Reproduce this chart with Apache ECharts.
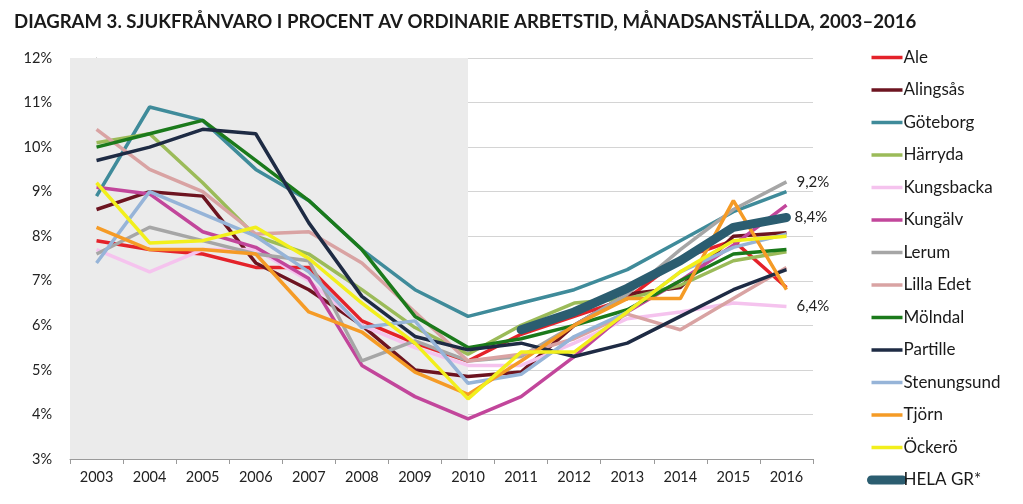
<!DOCTYPE html>
<html><head><meta charset="utf-8">
<script src="https://cdn.jsdelivr.net/npm/echarts@6/dist/echarts.min.js"></script>
<style>html,body{margin:0;padding:0;background:#fff}#c{width:1023px;height:504px}</style>
</head><body><div id="c"></div>
<script>
const years = ['2003','2004','2005','2006','2007','2008','2009','2010','2011','2012','2013','2014','2015','2016'];
const yTicks = [3,4,5,6,7,8,9,10,11,12];
const ale        = [7.9, 7.7, 7.6, 7.3, 7.3, 6.1, 5.6, 5.2, 5.8, 6.2, 6.6, 7.5, 7.9, 6.85];
const alingsas   = [8.6, 9.0, 8.9, 7.4, 6.8, 6.0, 5.0, 4.85, 4.95, 6.0, 6.7, 6.85, 8.0, 8.08];
const goteborg   = [8.9, 10.9, 10.6, 9.5, 8.8, 7.7, 6.8, 6.2, 6.5, 6.8, 7.25, 7.9, 8.55, 9.0];
const harryda    = [10.1, 10.3, 9.2, 8.0, 7.6, 6.8, 5.95, 5.35, 6.0, 6.5, 6.6, 6.9, 7.45, 7.65];
const kungsbacka = [7.7, 7.2, 7.7, 7.7, 7.0, 6.0, 5.5, 5.1, 5.1, 5.6, 6.15, 6.3, 6.5, 6.42];
const kungalv    = [9.1, 8.95, 8.1, 7.75, 7.05, 5.1, 4.4, 3.9, 4.4, 5.3, 6.3, 7.0, 7.8, 8.7];
const lerum      = [7.6, 8.2, 7.9, 7.6, 7.45, 5.2, 5.65, 5.2, 5.3, 6.0, 6.7, 7.7, 8.6, 9.22];
const lillaEdet  = [10.4, 9.5, 9.0, 8.05, 8.1, 7.4, 6.3, 5.2, 5.35, 5.7, 6.25, 5.9, 6.6, 7.3];
const molndal    = [10.0, 10.3, 10.6, 9.7, 8.8, 7.7, 6.2, 5.5, 5.7, 6.0, 6.35, 7.0, 7.6, 7.7];
const partille   = [9.7, 10.0, 10.4, 10.3, 8.3, 6.65, 5.75, 5.45, 5.6, 5.3, 5.6, 6.2, 6.8, 7.25];
const stenungsund= [7.4, 9.0, 8.5, 8.0, 7.2, 5.95, 6.1, 4.7, 4.9, 5.75, 6.3, 7.2, 7.75, 8.05];
const tjorn      = [8.2, 7.7, 7.7, 7.6, 6.3, 5.85, 4.95, 4.45, 5.2, 6.0, 6.6, 6.6, 8.8, 6.8];
const ockero     = [9.2, 7.85, 7.9, 8.2, 7.5, 6.5, 5.6, 4.35, 5.4, 5.4, 6.3, 7.2, 7.9, 8.0];
const helaGR     = [null, null, null, null, null, null, null, null, 5.9, 6.3, 6.83, 7.45, 8.2, 8.42];
const shadeRange = [-0.5, 7];

const FONT = 'Lato, "Open Sans", sans-serif';
const defs = [
  ['Ale', ale, '#e4222a'],
  ['Alingsås', alingsas, '#6d1420'],
  ['Göteborg', goteborg, '#3f8b9a'],
  ['Härryda', harryda, '#9bbb59'],
  ['Kungsbacka', kungsbacka, '#f5c3ee'],
  ['Kungälv', kungalv, '#c2469b'],
  ['Lerum', lerum, '#a6a6a6'],
  ['Lilla Edet', lillaEdet, '#d9a3a3'],
  ['Mölndal', molndal, '#1b7a1b'],
  ['Partille', partille, '#1e2b44'],
  ['Stenungsund', stenungsund, '#96b4d8'],
  ['Tjörn', tjorn, '#f59b26'],
  ['Öckerö', ockero, '#f2ef1c'],
];
const endLabelFor = new Set(['Lerum', 'Kungsbacka']);
const pct = p => (Math.round(p.value * 10) / 10).toFixed(1).replace('.', ',') + '%';
const series = defs.map(([name, data, color]) => ({
  name, type: 'line', data, symbol: 'none', color,
  lineStyle: { width: 3.5, color },
  endLabel: { show: endLabelFor.has(name), formatter: pct, fontFamily: FONT, fontSize: 15, color: '#222', distance: 10 },
  emphasis: { disabled: true }
}));
series.push({
  name: 'HELA GR*', type: 'line', data: helaGR, symbol: 'none', color: '#2b5d70',
  lineStyle: { width: 9, color: '#2b5d70', cap: 'round' },
  endLabel: { show: true, formatter: pct, fontFamily: FONT, fontSize: 15, color: '#222', distance: 8 },
  emphasis: { disabled: true }, z: 3
});
series.push({
  name: 'shade', type: 'line', data: [], xAxisIndex: 1, silent: true, z: 0,
  markArea: { silent: true, itemStyle: { color: '#ebebeb' }, data: [[{ xAxis: shadeRange[0] }, { xAxis: shadeRange[1] }]] }
});

const legendData = defs.map(d => ({ name: d[0] }));
legendData.push({ name: 'HELA GR*', lineStyle: { width: 9, cap: 'round' } });

const chart = echarts.init(document.getElementById('c'), null, { renderer: 'canvas' });
chart.setOption({
  animation: false,
  backgroundColor: '#fff',
  title: {
    text: 'DIAGRAM 3. SJUKFRÅNVARO I PROCENT AV ORDINARIE ARBETSTID, MÅNADSANSTÄLLDA, 2003–2016',
    left: 9, top: 7,
    textStyle: { fontFamily: FONT, fontSize: 18.6, fontWeight: 'bold', color: '#1a1a1a' }
  },
  legend: {
    orient: 'vertical', left: 862, top: 44, height: 470,
    itemWidth: 31, itemHeight: 14, itemGap: 15.5,
    data: legendData,
    itemStyle: { opacity: 0 },
    lineStyle: { width: 3.5 },
    textStyle: { fontFamily: FONT, fontSize: 17, color: '#1a1a1a', padding: [0, 0, 0, -4] },
    selectedMode: false
  },
  grid: { left: 70, right: 210, top: 58, bottom: 45 },
  xAxis: [{
    type: 'category', data: years, boundaryGap: true,
    axisLine: { lineStyle: { color: '#9a9a9a' } },
    axisTick: { show: true, length: 5, lineStyle: { color: '#9a9a9a' } },
    axisLabel: { fontFamily: FONT, fontSize: 14.5, color: '#222', margin: 11 }
  }, {
    type: 'value', min: -0.5, max: 13.5, show: false
  }],
  yAxis: {
    type: 'value', min: yTicks[0], max: yTicks[yTicks.length - 1], interval: 1,
    axisLine: { show: true, lineStyle: { color: '#9a9a9a' } },
    axisTick: { show: true, length: 6, lineStyle: { color: '#9a9a9a' } },
    axisLabel: { formatter: '{value}%', fontFamily: FONT, fontSize: 14.5, color: '#222', margin: 18 },
    splitLine: { lineStyle: { color: '#d4d4d4', width: 1 } }
  },
  series
});
</script></body></html>
